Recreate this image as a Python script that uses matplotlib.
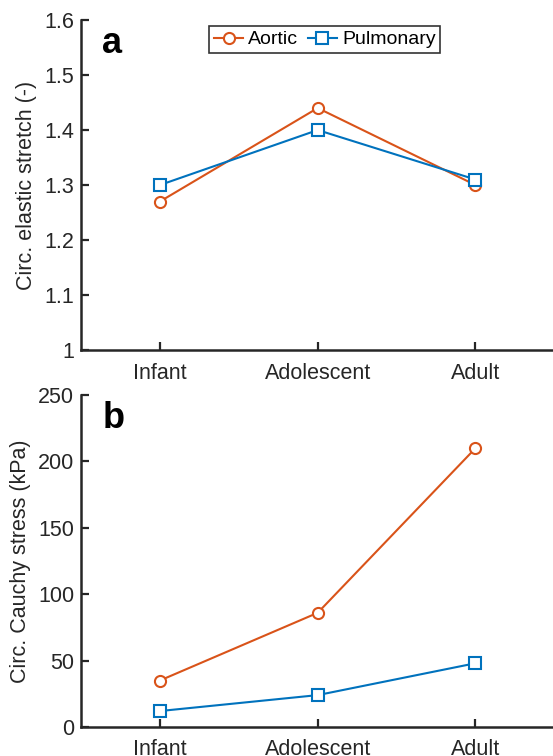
import numpy as np
import matplotlib
matplotlib.use("Agg")
import matplotlib.pyplot as plt

plt.rcParams['font.family'] = ['Liberation Sans', 'DejaVu Sans']

# data
groups = ['Infant', 'Adolescent', 'Adult']
stretch_aortic = [1.27, 1.44, 1.30]
stretch_pulm = [1.30, 1.40, 1.31]
stress_aortic = [35, 86, 210]
stress_pulm = [12, 24, 48]

c_aortic = '#D95319'
c_pulm = '#0072BD'
axcol = '#262626'

fig = plt.figure(figsize=(5.53, 7.56), dpi=100)
ax1 = fig.add_axes([0.1465, 0.537, 0.856, 0.4365])
ax2 = fig.add_axes([0.1465, 0.0384, 0.856, 0.439])

x = np.arange(1, len(groups) + 1)
fs = 15.5


def style(ax):
    for s in ['top', 'right']:
        ax.spines[s].set_visible(False)
    for s in ['left', 'bottom']:
        ax.spines[s].set_linewidth(1.8)
        ax.spines[s].set_color(axcol)
    ax.tick_params(direction='in', length=6, width=1.6, colors=axcol,
                   labelsize=fs, labelcolor=axcol, pad=5)
    ax.tick_params(axis='x', pad=9)
    ax.set_xlim(0.5, 3.5)
    ax.set_xticks(x)
    ax.set_xticklabels(groups)


mk = dict(markersize=8, markerfacecolor='white', markeredgewidth=1.5, linewidth=1.5)

ax1.plot(x, stretch_aortic, '-o', color=c_aortic, label='Aortic', **mk)
ax1.plot(x, stretch_pulm, '-s', color=c_pulm, label='Pulmonary', **mk)
style(ax1)
ax1.set_ylim(1, 1.6)
ax1.set_yticks([1, 1.1, 1.2, 1.3, 1.4, 1.5, 1.6])
ax1.set_yticklabels(['1', '1.1', '1.2', '1.3', '1.4', '1.5', '1.6'])
ax1.set_ylabel('Circ. elastic stretch (-)', fontsize=fs, color=axcol, labelpad=5)
ax1.text(0.045, 0.93, 'a', transform=ax1.transAxes, fontsize=26, fontweight='bold',
         va='center', ha='left')
leg = ax1.legend(loc='upper center', bbox_to_anchor=(0.515, 1.0), ncol=2, fontsize=14,
                 frameon=True, fancybox=False, edgecolor='black', handlelength=1.5,
                 handletextpad=0.25, columnspacing=0.5, borderpad=0.25, borderaxespad=0.3)
leg.get_frame().set_linewidth(1.2)

ax2.plot(x, stress_aortic, '-o', color=c_aortic, **mk)
ax2.plot(x, stress_pulm, '-s', color=c_pulm, **mk)
style(ax2)
ax2.set_ylim(0, 250)
ax2.set_yticks([0, 50, 100, 150, 200, 250])
ax2.set_ylabel('Circ. Cauchy stress (kPa)', fontsize=fs, color=axcol, labelpad=5)
ax2.text(0.045, 0.93, 'b', transform=ax2.transAxes, fontsize=26, fontweight='bold',
         va='center', ha='left')

fig.savefig('out.png', dpi=100)
